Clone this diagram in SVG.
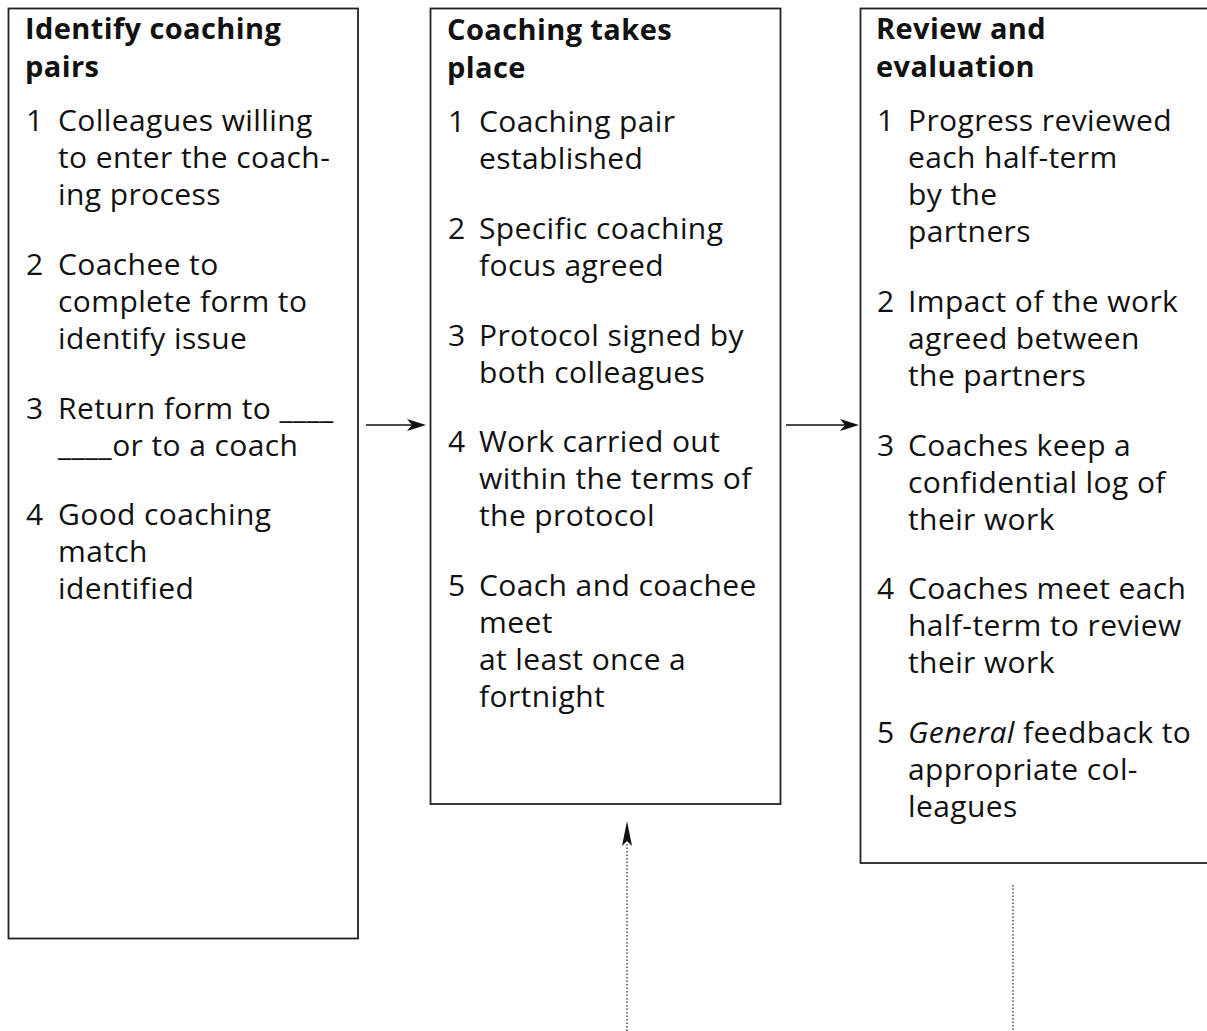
<svg xmlns="http://www.w3.org/2000/svg" width="1207" height="1031" viewBox="0 0 1207 1031">
<style>
.box{fill:#fff;stroke:#222;stroke-width:1.8}
.t{font-family:"Open Sans","Liberation Sans",sans-serif;font-size:30px;letter-spacing:0.4px;fill:#111}
.h{font-family:"Open Sans","Liberation Sans",sans-serif;font-size:29px;letter-spacing:0.4px;font-weight:bold;fill:#111}
.ln{stroke:#111;stroke-width:1.4;fill:none}
.dot{stroke:#333;stroke-width:1.3;stroke-dasharray:1.5 2;fill:none}
.head{fill:#111}
</style>
<rect width="1207" height="1031" fill="#fff"/>
<g id="node-identify">
<rect class="box" x="8.5" y="8.5" width="349.5" height="930"/>
<text class="h" x="25" y="39">Identify coaching</text>
<text class="h" x="25" y="77">pairs</text>
<text class="t" x="26" y="131">1</text>
<text class="t" x="58" y="131">Colleagues willing</text>
<text class="t" x="58" y="168">to enter the coach-</text>
<text class="t" x="58" y="205">ing process</text>
<text class="t" x="26" y="275">2</text>
<text class="t" x="58" y="275">Coachee to</text>
<text class="t" x="58" y="312">complete form to</text>
<text class="t" x="58" y="349">identify issue</text>
<text class="t" x="26" y="419">3</text>
<text class="t" x="58" y="419">Return form to ____</text>
<text class="t" x="58" y="456">____or to a coach</text>
<text class="t" x="26" y="525">4</text>
<text class="t" x="58" y="525">Good coaching</text>
<text class="t" x="58" y="562">match</text>
<text class="t" x="58" y="599">identified</text>
</g>
<g id="node-coaching">
<rect class="box" x="430.5" y="8.5" width="350" height="795.5"/>
<text class="h" x="447" y="40">Coaching takes</text>
<text class="h" x="447" y="78">place</text>
<text class="t" x="448" y="132">1</text>
<text class="t" x="479" y="132">Coaching pair</text>
<text class="t" x="479" y="169">established</text>
<text class="t" x="448" y="239">2</text>
<text class="t" x="479" y="239">Specific coaching</text>
<text class="t" x="479" y="276">focus agreed</text>
<text class="t" x="448" y="346">3</text>
<text class="t" x="479" y="346">Protocol signed by</text>
<text class="t" x="479" y="383">both colleagues</text>
<text class="t" x="448" y="452">4</text>
<text class="t" x="479" y="452">Work carried out</text>
<text class="t" x="479" y="489">within the terms of</text>
<text class="t" x="479" y="526">the protocol</text>
<text class="t" x="448" y="596">5</text>
<text class="t" x="479" y="596">Coach and coachee</text>
<text class="t" x="479" y="633">meet</text>
<text class="t" x="479" y="670">at least once a</text>
<text class="t" x="479" y="707">fortnight</text>
</g>
<g id="node-review">
<rect class="box" x="860.5" y="8.5" width="360" height="854.5"/>
<text class="h" x="876" y="39">Review and</text>
<text class="h" x="876" y="77">evaluation</text>
<text class="t" x="877" y="131">1</text>
<text class="t" x="908" y="131">Progress reviewed</text>
<text class="t" x="908" y="168">each half-term</text>
<text class="t" x="908" y="205">by the</text>
<text class="t" x="908" y="242">partners</text>
<text class="t" x="877" y="312">2</text>
<text class="t" x="908" y="312">Impact of the work</text>
<text class="t" x="908" y="349">agreed between</text>
<text class="t" x="908" y="386">the partners</text>
<text class="t" x="877" y="456">3</text>
<text class="t" x="908" y="456">Coaches keep a</text>
<text class="t" x="908" y="493">confidential log of</text>
<text class="t" x="908" y="530">their work</text>
<text class="t" x="877" y="599">4</text>
<text class="t" x="908" y="599">Coaches meet each</text>
<text class="t" x="908" y="636">half-term to review</text>
<text class="t" x="908" y="673">their work</text>
<text class="t" x="877" y="743">5</text>
<text class="t" x="908" y="743"><tspan font-style="italic">General</tspan> feedback to</text>
<text class="t" x="908" y="780">appropriate col-</text>
<text class="t" x="908" y="817">leagues</text>
</g>
<g id="connectors">
<line class="ln" x1="366" y1="425" x2="414" y2="425"/>
<path class="head" d="M426,425 L407,419 L412,425 L407,431 Z"/>
<line class="ln" x1="786" y1="425" x2="846" y2="425"/>
<path class="head" d="M859,425 L840,419 L845,425 L840,431 Z"/>
<line class="dot" x1="627" y1="1031" x2="627" y2="842"/>
<path class="head" d="M627,821 L632,846 L627,841 L622,846 Z"/>
<line class="dot" x1="1013" y1="885" x2="1013" y2="1031"/>
</g>
</svg>
